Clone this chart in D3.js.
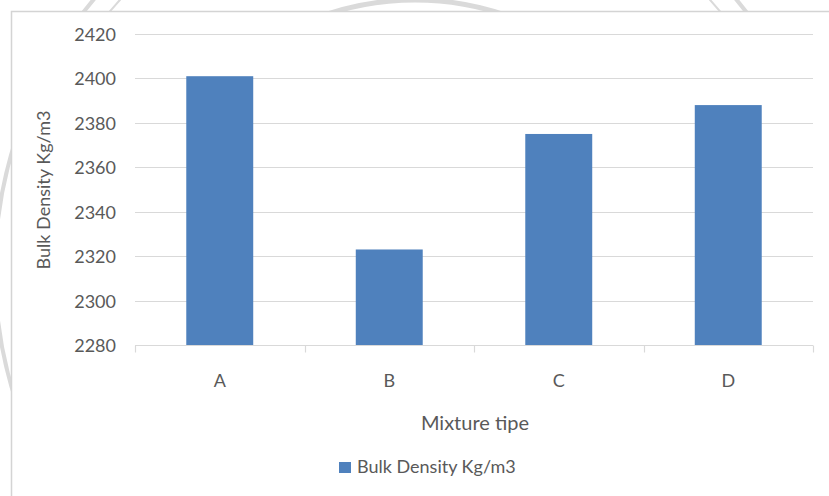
<!DOCTYPE html>
<html>
<head>
<meta charset="utf-8">
<script src="https://cdn.jsdelivr.net/npm/d3@7/dist/d3.min.js"></script>
<style>
  html, body { margin: 0; padding: 0; background: #ffffff; }
  svg { display: block; }
  text { font-family: Lato, "Open Sans", sans-serif; fill: #595959; }
</style>
</head>
<body>
<svg id="chart" width="829" height="496"></svg>
<script>
// Bulk density per mixture type
const categories = ["A", "B", "C", "D"];
const bulkDensity = [2401, 2323, 2375, 2388];
const yTicks = [2280, 2300, 2320, 2340, 2360, 2380, 2400, 2420];
const seriesName = "Bulk Density Kg/m3";
const xTitle = "Mixture tipe";
const yTitle = "Bulk Density Kg/m3";

const W = 829, H = 496;
const plot = { left: 135, right: 813, top: 34, bottom: 345 };
const barColor = "#4f81bd";
const gridColor = "#d9d9d9";

const svg = d3.select("#chart");

// faint seal in the page background
const seal = svg.append("g").attr("fill", "none").attr("stroke", "#dadada");
[[415, 270, 420, 4], [415, 270, 400, 2], [415, 280, 280, 5], [415, 280, 262, 2]].forEach(([cx, cy, r, w]) => {
  seal.append("circle").attr("cx", cx).attr("cy", cy).attr("r", r).attr("stroke-width", w);
});

// chart card
svg.append("rect")
  .attr("x", 11.5).attr("y", 11.5)
  .attr("width", W + 20).attr("height", H + 20)
  .attr("fill", "#ffffff")
  .attr("stroke", "#d4d4d4").attr("stroke-width", 1.5);

const x = d3.scaleBand()
  .domain(categories)
  .range([plot.left, plot.right])
  .paddingInner(0.605)
  .paddingOuter(0.3025);

const y = d3.scaleLinear()
  .domain([yTicks[0], yTicks[yTicks.length - 1]])
  .range([plot.bottom, plot.top]);

// horizontal gridlines
svg.append("g")
  .selectAll("line")
  .data(yTicks.slice(1))
  .join("line")
  .attr("x1", plot.left).attr("x2", plot.right)
  .attr("y1", d => Math.round(y(d)) + 0.5).attr("y2", d => Math.round(y(d)) + 0.5)
  .attr("stroke", gridColor).attr("stroke-width", 1.2);

// y axis labels
const yAxis = d3.axisLeft(y).tickValues(yTicks).tickSize(0).tickPadding(19).tickFormat(d3.format("d"));
const gy = svg.append("g").attr("transform", `translate(${plot.left},0)`).call(yAxis);
gy.select(".domain").remove();
gy.selectAll("text")
  .style("font-size", "18px")
  .attr("fill", "#595959")
  .attr("dy", "0.36em");

// bars
svg.append("g")
  .selectAll("rect")
  .data(categories.map((c, i) => ({ c, v: bulkDensity[i] })))
  .join("rect")
  .attr("x", d => x(d.c))
  .attr("width", x.bandwidth())
  .attr("y", d => y(d.v))
  .attr("height", d => y(yTicks[0]) - y(d.v))
  .attr("fill", barColor);

// x axis: baseline, category dividers, labels
const gx = svg.append("g").attr("transform", `translate(0,${Math.round(plot.bottom) + 0.5})`);
gx.append("line")
  .attr("x1", plot.left).attr("x2", plot.right)
  .attr("stroke", gridColor).attr("stroke-width", 1.2);
const step = x.step();
const dividers = d3.range(categories.length + 1).map(i => x(categories[0]) - x.paddingOuter() * step + i * step);
gx.selectAll("line.div")
  .data(dividers)
  .join("line")
  .attr("class", "div")
  .attr("x1", d => Math.round(d) + 0.5).attr("x2", d => Math.round(d) + 0.5)
  .attr("y1", 0).attr("y2", 7)
  .attr("stroke", gridColor).attr("stroke-width", 1.2);
gx.selectAll("text.cat")
  .data(categories)
  .join("text")
  .attr("class", "cat")
  .attr("x", d => x(d) + x.bandwidth() / 2)
  .attr("y", 41)
  .attr("text-anchor", "middle")
  .style("font-size", "18px")
  .text(d => d);

// axis titles
svg.append("text")
  .attr("x", 475).attr("y", 430)
  .attr("text-anchor", "middle")
  .style("font-size", "20px")
  .text(xTitle);

svg.append("text")
  .attr("transform", "translate(50,190) rotate(-90)")
  .attr("text-anchor", "middle")
  .style("font-size", "18px")
  .text(yTitle);

// legend
const lg = svg.append("g");
lg.append("rect").attr("x", 339).attr("y", 462).attr("width", 12).attr("height", 11).attr("fill", barColor);
lg.append("text").attr("x", 357).attr("y", 473).style("font-size", "18px").text(seriesName);
</script>
</body>
</html>
